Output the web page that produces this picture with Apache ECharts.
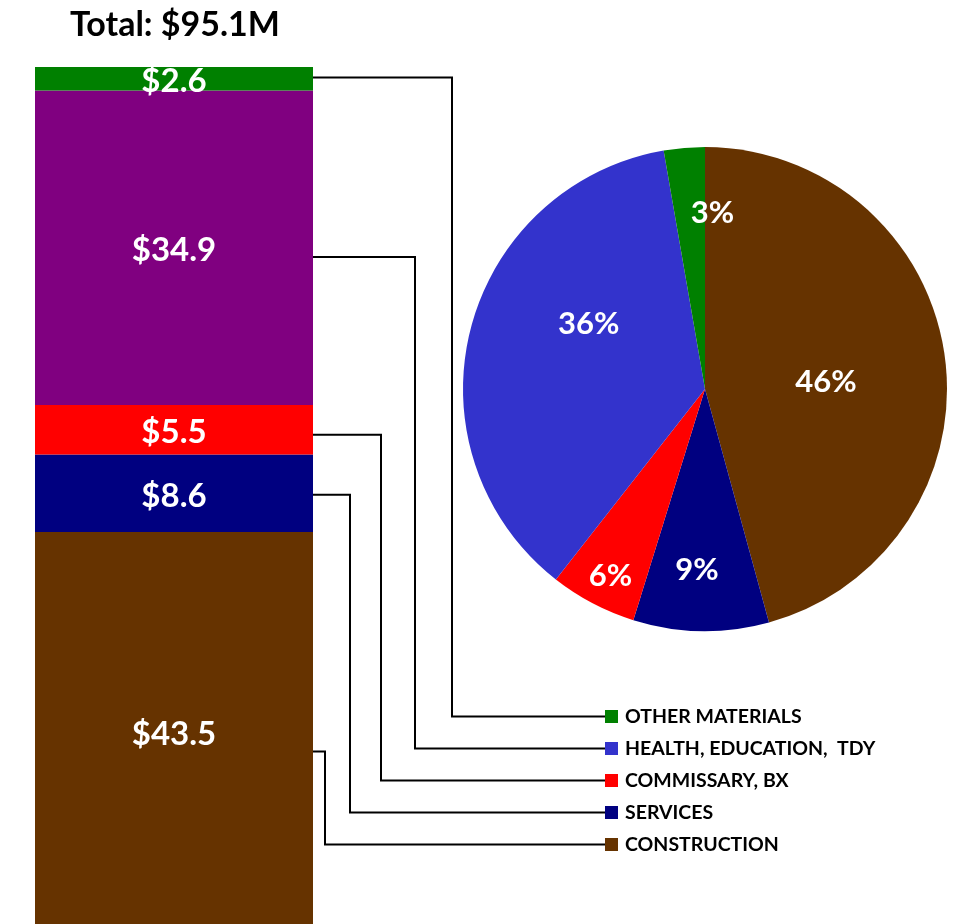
<!DOCTYPE html>
<html><head><meta charset="utf-8">
<script src="https://cdn.jsdelivr.net/npm/echarts@6/dist/echarts.min.js"></script>
<style>html,body{margin:0;padding:0;background:#fff}#c{width:956px;height:924px}</style>
</head><body><div id="c"></div>
<script>
// Data (stack order bottom -> top)
const categories = ['CONSTRUCTION', 'SERVICES', 'COMMISSARY, BX', 'HEALTH, EDUCATION,  TDY', 'OTHER MATERIALS'];
const values = [43.5, 8.6, 5.5, 34.9, 2.6];
const colors = ['#663300', '#000080', '#FF0000', '#800080', '#008000'];
const pieColors = ['#663300', '#000080', '#FF0000', '#3333CC', '#008000'];
const legendOrder = ['OTHER MATERIALS', 'HEALTH, EDUCATION,  TDY', 'COMMISSARY, BX', 'SERVICES', 'CONSTRUCTION'];
const totalLabel = 'Total: $95.1M';

// styling / layout (not data)
const FONT = 'Lato';
const pieLabelShift = [[-2, 10], [-6, 57], [-37, 77], [4, -35], [18, -52]];
const PIE_C = [705, 389], PIE_R = 242;

const total = values.reduce((a, b) => a + b, 0);
const chart = echarts.init(document.getElementById('c'));

const barSeries = categories.map((name, i) => ({
  name, type: 'bar', stack: 'total', barWidth: '100%',
  data: [values[i]],
  itemStyle: { color: colors[i] },
  label: { show: true, position: 'inside', offset: [0, i === 0 ? 6 : 3], color: '#fff', fontFamily: FONT, fontWeight: 'bold', fontSize: 33,
    formatter: p => '$' + p.value.toFixed(1) }
}));

const option = {
  animation: false,
  title: { text: totalLabel, left: 70, top: 8, padding: 0, textStyle: { fontFamily: FONT, fontWeight: 'bold', fontSize: 34, color: '#000' } },
  grid: { left: 35, top: 67, width: 278, height: 865 },
  xAxis: { type: 'category', data: [''], show: false },
  yAxis: { type: 'value', min: 0, max: total, show: false },
  series: barSeries.concat([{
    type: 'pie', center: PIE_C, radius: PIE_R, startAngle: 90, clockwise: true,
    percentPrecision: 0,
    data: categories.map((name, i) => ({ name, value: values[i], itemStyle: { color: pieColors[i] } })),
    label: { show: true, position: 'inside', color: '#fff', fontFamily: FONT, fontWeight: 'bold', fontSize: 31, formatter: '{d}%' },
    labelLine: { show: false },
    itemStyle: { borderWidth: 0 },
    labelLayout: function (params) {
      const s = pieLabelShift[params.dataIndex];
      return { dx: s[0] / 2, dy: s[1] / 2 };
    }
  }])
};
chart.setOption(option);

// Legend + connector lines from bar segments to legend entries
const LEG_X = 605, LEG_Y0 = 716.5, LEG_STEP = 32, MARK = 13;
const elbowX = { 'OTHER MATERIALS': 452, 'HEALTH, EDUCATION,  TDY': 415, 'COMMISSARY, BX': 381, 'SERVICES': 350, 'CONSTRUCTION': 325 };
const anchorFrac = { 'OTHER MATERIALS': 0.45, 'HEALTH, EDUCATION,  TDY': 0.53, 'COMMISSARY, BX': 0.6, 'SERVICES': 0.52, 'CONSTRUCTION': 0.56 };
const graphics = [];
let cum = 0;
const segs = {};
categories.forEach((n, i) => { segs[n] = [cum, cum + values[i]]; cum += values[i]; });
const xRight = chart.convertToPixel({ gridIndex: 0 }, [0, 0])[0] + 139;
legendOrder.forEach((n, k) => {
  const s = segs[n];
  const v = s[1] - (s[1] - s[0]) * anchorFrac[n];
  const p = chart.convertToPixel({ gridIndex: 0 }, [0, v]);
  const yL = LEG_Y0 + k * LEG_STEP;
  graphics.push({
    type: 'polyline', silent: true,
    shape: { points: [[xRight, p[1]], [elbowX[n], p[1]], [elbowX[n], yL], [LEG_X, yL]] },
    style: { stroke: '#000', lineWidth: 2, fill: null }
  });
  graphics.push({
    type: 'rect', silent: true,
    shape: { x: LEG_X, y: yL - MARK / 2, width: MARK, height: MARK },
    style: { fill: pieColors[categories.indexOf(n)] }
  });
  graphics.push({
    type: 'text', silent: true, x: LEG_X + 20, y: yL,
    style: { text: n, fill: '#000', font: 'bold 19.5px ' + FONT, textVerticalAlign: 'middle', verticalAlign: 'middle' }
  });
});
chart.setOption({ graphic: graphics });
</script></body></html>
